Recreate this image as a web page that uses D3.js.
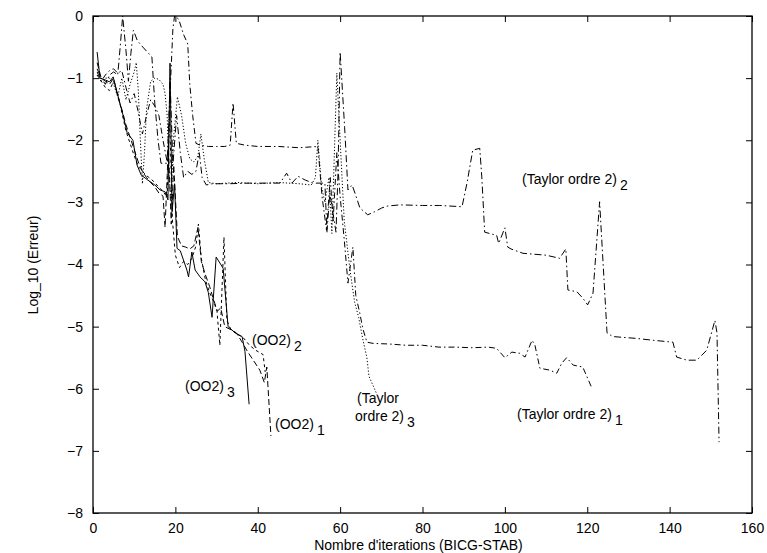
<!DOCTYPE html>
<html><head><meta charset="utf-8">
<script src="https://cdn.jsdelivr.net/npm/d3@7"></script>
<style>body{margin:0;background:#fff}svg{display:block}</style>
</head><body><svg id="c" width="767" height="553"></svg>
<script>
const xTicks = [0, 20, 40, 60, 80, 100, 120, 140, 160];
const yTicks = [-8, -7, -6, -5, -4, -3, -2, -1, 0];
const xTitle = "Nombre d'iterations (BICG-STAB)";
const yTitle = "Log_10 (Erreur)";

const oo2_3 = [[1,-0.58],[1.7,-1.0],[3,-1.03],[4,-1.06],[4.9,-0.98],[6,-1.27],[7.3,-1.6],[8.3,-1.88],[9.7,-2.0],[10.7,-2.4],[11.7,-2.56],[13.3,-2.64],[15,-2.72],[16.3,-2.8],[17.5,-2.83],[18.2,-2.96],[18.7,-0.76],[19.2,-3.15],[19.8,-2.7],[20.4,-3.74],[21.2,-3.78],[22.8,-4.09],[23.2,-4.2],[24,-3.8],[24.8,-4.09],[26,-4.2],[27.2,-4.28],[28,-4.45],[28.9,-4.85],[29.9,-3.88],[31.6,-4.06],[32.8,-5.0],[34.5,-5.1],[36.2,-5.16],[36.9,-5.4],[37.9,-6.25]];

const oo2_1 = [[1,-0.75],[2,-1.0],[3,-1.05],[4,-1.1],[5,-1.0],[6,-1.3],[7,-1.5],[8,-1.75],[9,-1.95],[10,-2.15],[11,-2.35],[12,-2.5],[13,-2.6],[14,-2.68],[15,-2.75],[16,-2.85],[17,-2.9],[17.5,-3.4],[18.3,-2.1],[19,-3.35],[19.6,-2.4],[20.5,-3.55],[21.5,-3.7],[22.5,-3.72],[23.5,-3.75],[24.5,-3.7],[25.5,-3.4],[26.3,-3.95],[27.2,-4.15],[28.3,-4.35],[29.2,-4.55],[30.2,-4.75],[31,-4.7],[32,-5.0],[33.5,-5.05],[34.8,-5.1],[36.2,-5.25],[37.5,-5.4],[39,-5.55],[40.5,-5.7],[41.6,-5.9],[42.2,-5.65],[43.2,-6.76]];

const oo2_2 = [[1,-0.95],[2,-1.05],[3,-1.15],[4,-1.2],[5,-1.05],[6,-1.25],[7,-1.55],[8,-1.85],[9,-2.05],[10,-2.25],[11,-2.42],[12,-2.5],[13,-2.57],[14,-2.62],[15,-2.68],[16,-2.76],[17,-2.82],[18,-2.92],[18.6,-1.6],[19.3,-3.3],[20,-3.85],[21,-4.05],[22,-3.95],[23,-4.0],[24,-3.9],[25,-3.7],[25.6,-3.35],[26.3,-3.9],[27.3,-4.25],[28.3,-4.45],[29.3,-4.6],[30.1,-4.75],[30.8,-5.3],[31.8,-3.56],[32.5,-4.9],[33.5,-5.05],[35,-5.12],[36.5,-5.18],[38,-5.3],[39.5,-5.38],[41.3,-5.45],[41.8,-5.73]];

const taylor_1 = [[1,-0.9],[2,-1.05],[3,-0.95],[4,-0.88],[5,-0.85],[6,-0.92],[7,-0.88],[8,-1.15],[9,-1.4],[10,-1.25],[11,-1.55],[12,-1.9],[13,-1.6],[14,-1.35],[15,-1.45],[16,-1.6],[17,-2.0],[18,-2.35],[18.8,-1.1],[19.4,-0.2],[19.8,0],[20.8,-0.05],[22,-0.3],[23,-0.45],[23.5,-1.1],[24.2,-1.6],[25,-2.05],[26,-2.08],[28,-2.1],[30,-2.1],[32,-2.1],[33.3,-2.08],[34,-1.4],[34.8,-2.05],[37,-2.08],[40,-2.1],[45,-2.1],[50,-2.12],[54.6,-2.1],[55.6,-2.9],[56.7,-3.45],[57.6,-2.6],[58.3,-3.3],[59.2,-2.2],[60,-2.9],[61,-3.6],[61.9,-4.3],[63.1,-3.72],[63.8,-4.5],[64.8,-4.79],[65.5,-5.03],[66.5,-5.25],[68,-5.27],[72,-5.28],[76,-5.3],[80,-5.3],[84,-5.33],[88,-5.33],[92,-5.34],[96,-5.33],[98,-5.35],[100,-5.5],[101.7,-5.41],[103.6,-5.43],[104.9,-5.49],[106.6,-5.22],[107.3,-5.3],[108.5,-5.67],[110.9,-5.7],[112.6,-5.75],[113.8,-5.59],[115,-5.5],[116.6,-5.62],[118.9,-5.65],[121,-5.97]];

const taylor_2 = [[1,-0.85],[2,-1.0],[3,-1.1],[4,-0.95],[5,-0.9],[6,-0.95],[6.6,-0.5],[7.2,0],[8,-0.55],[8.6,-1.05],[9.2,-0.6],[9.8,-0.23],[10.8,-0.4],[12.1,-0.5],[14.3,-0.66],[15,-1.4],[15.8,-2.0],[16.5,-2.37],[18.2,-2.37],[18.7,-1.0],[19.4,-2.4],[20.3,-1.6],[21.2,-2.2],[22,-2.6],[23,-2.5],[24,-2.55],[25,-2.5],[25.8,-2.2],[26.5,-2.6],[27.5,-2.72],[29,-2.7],[33,-2.7],[38,-2.69],[45.4,-2.69],[47,-2.53],[48.3,-2.69],[49.8,-2.58],[51.5,-2.64],[53.4,-2.69],[56.3,-2.69],[56.8,-3.48],[57.5,-2.85],[59,-3.48],[59.5,-2.5],[60,-0.58],[61.1,-1.8],[61.9,-2.8],[62.9,-2.72],[63.6,-2.85],[64.8,-3.09],[66.7,-3.2],[68.4,-3.15],[70.1,-3.09],[71.4,-3.06],[74.5,-3.04],[80,-3.05],[84.2,-3.05],[89.6,-3.07],[90.8,-2.69],[92.2,-2.16],[93.9,-2.13],[94.4,-2.59],[95.1,-3.48],[98,-3.53],[98.5,-3.66],[100,-3.41],[100.7,-3.72],[101.5,-3.75],[104.4,-3.82],[110,-3.85],[113.3,-3.9],[114.8,-3.75],[115.3,-4.41],[117.5,-4.44],[118.9,-4.54],[120.1,-4.65],[121.4,-4.46],[123,-2.99],[124.8,-5.1],[126.2,-5.16],[132,-5.19],[136,-5.22],[140.8,-5.25],[141.7,-5.49],[144.2,-5.54],[146.6,-5.54],[149,-5.38],[151,-4.9],[151.5,-5.1],[152,-6.86]];

const taylor_3 = [[1,-0.95],[2,-1.05],[3,-1.0],[4,-1.0],[5,-1.1],[6,-1.3],[7,-1.0],[8,-1.35],[9,-1.1],[10,-0.9],[10.5,-0.75],[11,-1.2],[11.5,-2.0],[12,-2.7],[12.5,-2.2],[13,-1.5],[14,-1.05],[15,-1.0],[16,-1.02],[17,-1.1],[17.5,-1.25],[18,-1.6],[18.5,-2.6],[19,-3.0],[19.5,-2.0],[20.5,-1.3],[21.5,-1.6],[22.5,-2.05],[23.5,-2.3],[24.5,-2.35],[25.5,-2.25],[26.2,-1.9],[27,-2.3],[28,-2.68],[30,-2.7],[35,-2.68],[40,-2.7],[45,-2.68],[50,-2.7],[53,-2.72],[54,-2.6],[54.6,-2.0],[55.5,-2.75],[56.3,-3.0],[57.3,-2.6],[58,-3.5],[59.2,-0.92],[60,-2.0],[61,-3.3],[62.4,-4.09],[63.5,-4.6],[64.5,-4.85],[65.5,-5.2],[66.5,-5.5],[67,-5.8],[68,-5.95],[69,-6.1]];

const series = [
  {data: oo2_3, dash: null},
  {data: oo2_1, dash: "6,3"},
  {data: oo2_2, dash: "3,3"},
  {data: taylor_1, dash: "6,3,1.5,3"},
  {data: taylor_2, dash: "7,3,1.5,3"},
  {data: taylor_3, dash: "1.2,2"}
];

const svg = d3.select("#c");
const L = 93, R = 752, T = 16, B = 513;
const x = d3.scaleLinear().domain([0, 160]).range([L, R]);
const y = d3.scaleLinear().domain([-8, 0]).range([B, T]);
const FONT = "'Liberation Sans', Arial, Helvetica, sans-serif";

function styleAxis(g) {
  g.select(".domain").remove();
  g.selectAll("line").attr("stroke", "#000").attr("stroke-width", 1);
  g.selectAll("text").attr("font-family", FONT).attr("font-size", 14).attr("fill", "#000");
}

svg.append("g").attr("transform", `translate(0,${B})`)
  .call(d3.axisBottom(x).tickValues(xTicks).tickSizeInner(-6).tickSizeOuter(0).tickPadding(10).tickFormat(d3.format("d")))
  .call(styleAxis);
svg.append("g").attr("transform", `translate(0,${T})`)
  .call(d3.axisTop(x).tickValues(xTicks).tickSizeInner(-6).tickSizeOuter(0).tickFormat(""))
  .call(styleAxis);
svg.append("g").attr("transform", `translate(${L},0)`)
  .call(d3.axisLeft(y).tickValues(yTicks).tickSizeInner(-6).tickSizeOuter(0).tickPadding(10).tickFormat(d3.format("d")))
  .call(styleAxis);
svg.append("g").attr("transform", `translate(${R},0)`)
  .call(d3.axisRight(y).tickValues(yTicks).tickSizeInner(-6).tickSizeOuter(0).tickFormat(""))
  .call(styleAxis);

svg.append("rect").attr("x", L).attr("y", T).attr("width", R - L).attr("height", B - T)
  .attr("fill", "none").attr("stroke", "#000").attr("stroke-width", 1.3);

const line = d3.line().x(d => x(d[0])).y(d => y(d[1]));
svg.append("g").selectAll("path").data(series).join("path")
  .attr("d", d => line(d.data))
  .attr("fill", "none").attr("stroke", "#000").attr("stroke-width", 1)
  .attr("stroke-dasharray", d => d.dash);

function label(px, py, main, sub) {
  const t = svg.append("text").attr("x", px).attr("y", py)
    .attr("font-family", FONT).attr("font-size", 14).attr("fill", "#000");
  t.append("tspan").text(main);
  if (sub) t.append("tspan").attr("dx", 3).attr("dy", 6).text(sub);
}
label(252, 345, "(OO2)", "2");
label(185, 391, "(OO2)", "3");
label(275, 429, "(OO2)", "1");
label(522, 184, "(Taylor ordre 2)", "2");
label(517, 419, "(Taylor ordre 2)", "1");
label(357, 403, "(Taylor", null);
label(355, 421, "ordre 2)", "3");

svg.append("text").attr("x", (L + R) / 2 - 4).attr("y", 550).attr("text-anchor", "middle")
  .attr("font-family", FONT).attr("font-size", 14).text(xTitle);
svg.append("text").attr("transform", "translate(38,265) rotate(-90)").attr("text-anchor", "middle")
  .attr("font-family", FONT).attr("font-size", 14).text(yTitle);
</script>
</body></html>
